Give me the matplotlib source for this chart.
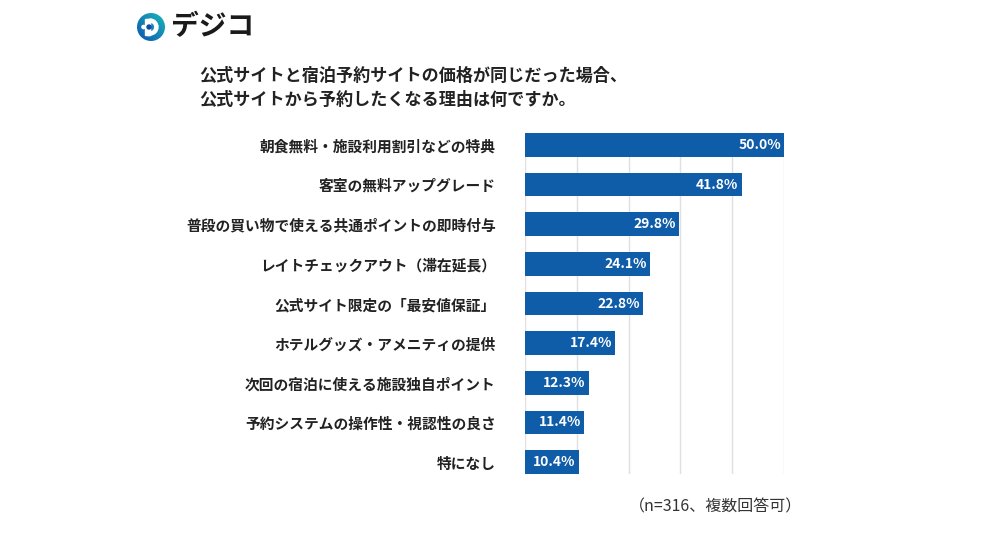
import matplotlib
matplotlib.use("Agg")
import matplotlib.pyplot as plt
import numpy as np
from matplotlib.patches import Circle, Wedge, Rectangle

plt.rcParams['font.family'] = ['Noto Sans CJK JP', 'DejaVu Sans']

categories = [
    "朝食無料・施設利用割引などの特典",
    "客室の無料アップグレード",
    "普段の買い物で使える共通ポイントの即時付与",
    "レイトチェックアウト（滞在延長）",
    "公式サイト限定の「最安値保証」",
    "ホテルグッズ・アメニティの提供",
    "次回の宿泊に使える施設独自ポイント",
    "予約システムの操作性・視認性の良さ",
    "特になし",
]
values = [50.0, 41.8, 29.8, 24.1, 22.8, 17.4, 12.3, 11.4, 10.4]
xticks = [0, 10, 20, 30, 40, 50]

title = "公式サイトと宿泊予約サイトの価格が同じだった場合、\n公式サイトから予約したくなる理由は何ですか。"
note = "（n=316、複数回答可）"

W, H = 1000, 537
fig = plt.figure(figsize=(W / 100, H / 100), dpi=100)
fig.patch.set_facecolor("white")

def fx(px):
    return px / W

def fy(py):
    return 1 - py / H

bar_color = "#0F5CA8"

ax = fig.add_axes([fx(525), fy(474), fx(784) - fx(525), fy(133) - fy(474)])
y = np.arange(len(categories))
ax.barh(y, values, height=0.6, color=bar_color, zorder=3)
ax.set_xlim(0, 50)
ax.set_ylim(len(categories) - 1 + 0.3, -0.3)
ax.set_xticks(xticks)
ax.grid(axis="x", color="#E0E0E0", linewidth=1, zorder=0)
ax.tick_params(axis="both", length=0, labelbottom=False)
ax.set_yticks(y)
ax.set_yticklabels(categories, fontsize=10.6, fontweight="bold", color="#222222")
ax.tick_params(axis="y", pad=21)
for s in ax.spines.values():
    s.set_visible(False)

for yi, v in zip(y, values):
    ax.text(v - 0.6, yi, f"{v:.1f}%", ha="right", va="center",
            color="white", fontsize=10, fontweight="bold", zorder=4)

fig.text(fx(199), fy(88), title, ha="left", va="center", fontsize=12.3,
         fontweight="bold", color="#222222", linespacing=1.45)
fig.text(fx(802), fy(507), note, ha="right", va="center", fontsize=11.5,
         color="#333333")

# logo
lax = fig.add_axes([0, 0, 1, 1], zorder=5)
lax.set_xlim(0, W)
lax.set_ylim(H, 0)
lax.axis("off")
cx, cy, r = 151, 27, 14
grad = np.linspace(0, 1, 64)
gx, gy = np.meshgrid(grad, grad)
t = (gx + (1 - gy)) / 2
c1 = np.array([0.05, 0.33, 0.70])
c2 = np.array([0.10, 0.72, 0.72])
img = c1[None, None, :] * (1 - t[..., None]) + c2[None, None, :] * t[..., None]
im = lax.imshow(img, extent=[cx - r, cx + r, cy + r, cy - r], zorder=1)
clip = Circle((cx, cy), r, transform=lax.transData)
im.set_clip_path(clip)
lax.add_patch(Rectangle((cx - 6, cy - 8), 5, 16, color="white", zorder=2))
lax.add_patch(Wedge((cx - 1, cy), 8, -90, 90, width=3.2, color="white", zorder=2))
lax.add_patch(Rectangle((cx - 4, cy - 8), 3, 3.2, color="white", zorder=2))
lax.add_patch(Rectangle((cx - 4, cy + 4.8), 3, 3.2, color="white", zorder=2))
lax.add_patch(Circle((cx - 2, cy), 2, color=c1 * 0.9, zorder=3))
lax.add_patch(Circle((cx - 7.5, cy), 1.6, color="white", zorder=3))
lax.text(171, 27, "デジコ", ha="left", va="center", fontsize=20,
         fontweight="bold", color="#1A1A1A")

fig.savefig("out.png", dpi=100, facecolor="white")
